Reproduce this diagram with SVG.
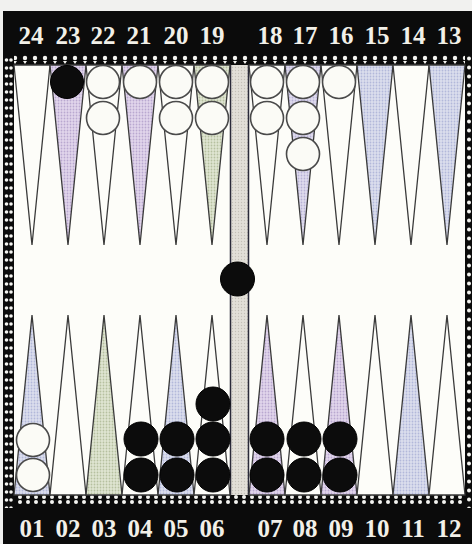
<svg xmlns="http://www.w3.org/2000/svg" width="472" height="544" viewBox="0 0 472 544">
<defs>
<pattern id="dotsH" x="0" y="55" width="10" height="10" patternUnits="userSpaceOnUse">
<rect width="10" height="10" fill="#0b0b0b"/>
<circle cx="5" cy="3" r="2.2" fill="#f4f4f0"/>
<path d="M3 6 L7 6 L5 9 Z" fill="#f4f4f0"/>
</pattern>
<pattern id="dotsB" x="0" y="494" width="8" height="14" patternUnits="userSpaceOnUse">
<rect width="8" height="14" fill="#0b0b0b"/>
<circle cx="4" cy="3" r="2" fill="#f4f4f0"/>
<circle cx="4" cy="8" r="2" fill="#f4f4f0"/>
</pattern>
<pattern id="dotsV" x="3" y="0" width="11" height="8" patternUnits="userSpaceOnUse">
<rect width="11" height="8" fill="#0b0b0b"/>
<circle cx="3.5" cy="4" r="1.8" fill="#f4f4f0"/>
<circle cx="8" cy="4" r="1.8" fill="#f4f4f0"/>
</pattern>
<pattern id="dotsR" x="465" y="0" width="7" height="9" patternUnits="userSpaceOnUse">
<rect width="7" height="9" fill="#0b0b0b"/>
<circle cx="4" cy="4.5" r="2" fill="#f4f4f0"/>
</pattern>
<pattern id="stipple" width="3" height="3" patternUnits="userSpaceOnUse">
<rect width="3" height="3" fill="#e2dfd8"/>
<circle cx="1.5" cy="1.5" r="0.7" fill="#c4c0b8"/>
</pattern>
<pattern id="pPnk" width="3" height="3" patternUnits="userSpaceOnUse">
<rect width="3" height="3" fill="#e2d6ec"/>
<circle cx="1.5" cy="1.5" r="0.9" fill="#b9a8d0"/>
</pattern>
<pattern id="pLav" width="3" height="3" patternUnits="userSpaceOnUse">
<rect width="3" height="3" fill="#e0dcee"/>
<circle cx="1.5" cy="1.5" r="0.9" fill="#b8b2d6"/>
</pattern>
<pattern id="pBlu" width="3" height="3" patternUnits="userSpaceOnUse">
<rect width="3" height="3" fill="#dcdfee"/>
<circle cx="1.5" cy="1.5" r="0.9" fill="#b2b8da"/>
</pattern>
<pattern id="pGrn" width="3" height="3" patternUnits="userSpaceOnUse">
<rect width="3" height="3" fill="#e0e6d2"/>
<circle cx="1.5" cy="1.5" r="0.9" fill="#b6c0a0"/>
</pattern>
</defs>
<style>
.lbl{font-family:"Liberation Serif","Times New Roman",serif;font-size:25px;font-weight:bold;fill:#f2f0e8;text-anchor:middle}
.tri{stroke:#3a3a3a;stroke-width:1.3;stroke-linejoin:miter}
.w{fill:#fdfdf9}
.lav{fill:url(#pLav)}
.pnk{fill:url(#pPnk)}
.grn{fill:url(#pGrn)}
.blu{fill:url(#pBlu)}
.wc{fill:#fbfbf6;stroke:#4a4a4a;stroke-width:1.6}
.bc{fill:#0c0c0c;stroke:#000;stroke-width:1}
</style>
<rect width="472" height="544" fill="#f1f1ef"/>
<rect x="3" y="11" width="469" height="533" fill="#0b0b0b"/>
<rect x="14" y="65" width="451" height="430" fill="#fdfdf9"/>
<rect x="3" y="55" width="469" height="10" fill="url(#dotsH)"/>
<rect x="3" y="494" width="469" height="14" fill="url(#dotsB)"/>
<rect x="3" y="55" width="11" height="453" fill="url(#dotsV)"/>
<rect x="465" y="55" width="7" height="453" fill="url(#dotsR)"/>
<g id="bar">
<rect x="230" y="65" width="19" height="430" fill="url(#stipple)"/>
<line x1="230.5" y1="65" x2="230.5" y2="495" stroke="#2a2a3a" stroke-width="1.5"/>
<line x1="248.5" y1="65" x2="248.5" y2="495" stroke="#2a2a3a" stroke-width="1.5"/>
</g>
<g id="top-points">
<polygon class="tri w" points="14,65 50,65 32,245"/>
<polygon class="tri pnk" points="50,65 86,65 68,245"/>
<polygon class="tri w" points="86,65 122,65 104,245"/>
<polygon class="tri pnk" points="122,65 158,65 140,245"/>
<polygon class="tri w" points="158,65 194,65 176,245"/>
<polygon class="tri grn" points="194,65 230,65 212,245"/>
<polygon class="tri w" points="249,65 285,65 267,245"/>
<polygon class="tri lav" points="285,65 321,65 303,245"/>
<polygon class="tri w" points="321,65 357,65 339,245"/>
<polygon class="tri blu" points="357,65 393,65 375,245"/>
<polygon class="tri w" points="393,65 429,65 411,245"/>
<polygon class="tri blu" points="429,65 465,65 447,245"/>
</g>
<g id="bottom-points">
<polygon class="tri blu" points="14,495 50,495 32,315"/>
<polygon class="tri w" points="50,495 86,495 68,315"/>
<polygon class="tri grn" points="86,495 122,495 104,315"/>
<polygon class="tri w" points="122,495 158,495 140,315"/>
<polygon class="tri blu" points="158,495 194,495 176,315"/>
<polygon class="tri w" points="194,495 230,495 212,315"/>
<polygon class="tri pnk" points="249,495 285,495 267,315"/>
<polygon class="tri w" points="285,495 321,495 303,315"/>
<polygon class="tri pnk" points="321,495 357,495 339,315"/>
<polygon class="tri w" points="357,495 393,495 375,315"/>
<polygon class="tri blu" points="393,495 429,495 411,315"/>
<polygon class="tri w" points="429,495 465,495 447,315"/>
</g>
<g id="labels-top">
<text class="lbl" x="31" y="44">24</text>
<text class="lbl" x="68" y="44">23</text>
<text class="lbl" x="103" y="44">22</text>
<text class="lbl" x="139" y="44">21</text>
<text class="lbl" x="176" y="44">20</text>
<text class="lbl" x="212" y="44">19</text>
<text class="lbl" x="270" y="44">18</text>
<text class="lbl" x="305" y="44">17</text>
<text class="lbl" x="341" y="44">16</text>
<text class="lbl" x="377" y="44">15</text>
<text class="lbl" x="413" y="44">14</text>
<text class="lbl" x="449" y="44">13</text>
</g>
<g id="labels-bottom">
<text class="lbl" x="32" y="537">01</text>
<text class="lbl" x="68" y="537">02</text>
<text class="lbl" x="104" y="537">03</text>
<text class="lbl" x="140" y="537">04</text>
<text class="lbl" x="176" y="537">05</text>
<text class="lbl" x="212" y="537">06</text>
<text class="lbl" x="270" y="537">07</text>
<text class="lbl" x="305" y="537">08</text>
<text class="lbl" x="341" y="537">09</text>
<text class="lbl" x="377" y="537">10</text>
<text class="lbl" x="413" y="537">11</text>
<text class="lbl" x="449" y="537">12</text>
</g>
<g id="checkers-top">
<circle class="bc" cx="67" cy="82" r="16.5"/>
<circle class="wc" cx="103" cy="82" r="16.5"/>
<circle class="wc" cx="103" cy="118" r="16.5"/>
<circle class="wc" cx="140" cy="82" r="16.5"/>
<circle class="wc" cx="176" cy="82" r="16.5"/>
<circle class="wc" cx="176" cy="118" r="16.5"/>
<circle class="wc" cx="212" cy="82" r="16.5"/>
<circle class="wc" cx="212" cy="118" r="16.5"/>
<circle class="wc" cx="267" cy="82" r="16.5"/>
<circle class="wc" cx="267" cy="118" r="16.5"/>
<circle class="wc" cx="303" cy="82" r="16.5"/>
<circle class="wc" cx="303" cy="118" r="16.5"/>
<circle class="wc" cx="303" cy="154" r="16.5"/>
<circle class="wc" cx="339" cy="82" r="16.5"/>
</g>
<g id="checker-bar">
<circle class="bc" cx="237.5" cy="279" r="17"/>
</g>
<g id="checkers-bottom">
<circle class="wc" cx="33" cy="440" r="16.5"/>
<circle class="wc" cx="33" cy="475" r="16.5"/>
<circle class="bc" cx="141" cy="439" r="17"/>
<circle class="bc" cx="141" cy="475" r="17"/>
<circle class="bc" cx="177" cy="439" r="17"/>
<circle class="bc" cx="177" cy="475" r="17"/>
<circle class="bc" cx="213" cy="404" r="17"/>
<circle class="bc" cx="213" cy="439" r="17"/>
<circle class="bc" cx="213" cy="475" r="17"/>
<circle class="bc" cx="267" cy="439" r="17"/>
<circle class="bc" cx="267" cy="475" r="17"/>
<circle class="bc" cx="304" cy="439" r="17"/>
<circle class="bc" cx="304" cy="475" r="17"/>
<circle class="bc" cx="340" cy="439" r="17"/>
<circle class="bc" cx="340" cy="475" r="17"/>
</g>
</svg>
